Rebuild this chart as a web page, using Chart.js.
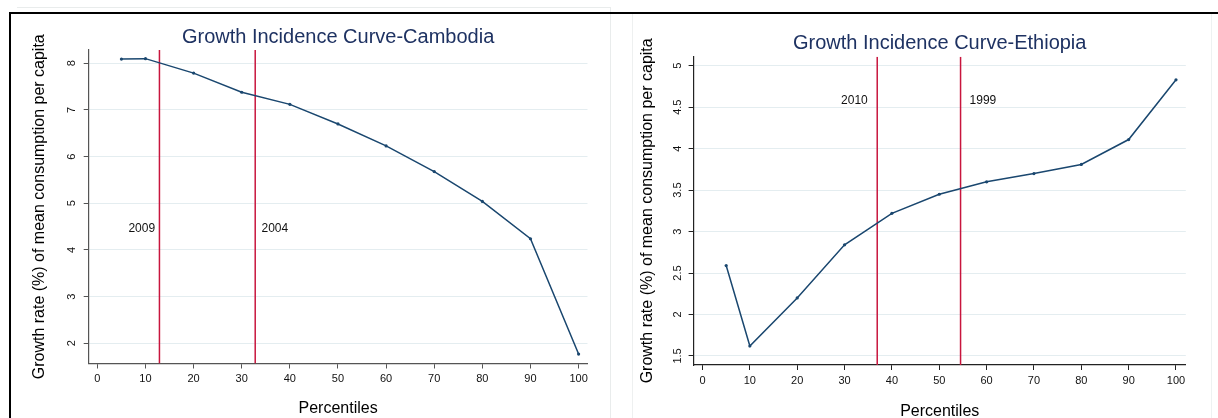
<!DOCTYPE html>
<html>
<head>
<meta charset="utf-8">
<script src="https://cdn.jsdelivr.net/npm/chart.js@4.4.0/dist/chart.umd.min.js"></script>
<style>
  html, body { margin: 0; padding: 0; background: #fff; overflow: hidden; }
  body { width: 1218px; height: 418px; position: relative; }
  .wrap { position: absolute; top: 0; }
  .ln { position: absolute; }
</style>
</head>
<body>
<div class="wrap" style="left:0;width:610px;height:418px"><canvas id="cambodia"></canvas></div>
<div class="wrap" style="left:610px;width:608px;height:421px"><canvas id="ethiopia"></canvas></div>

<!-- page frame lines -->
<div class="ln" style="left:17px;top:7px;width:594px;height:1px;background:#e9ecec"></div>
<div class="ln" style="left:610px;top:7px;width:1px;height:411px;background:#e9ecec"></div>
<div class="ln" style="left:632px;top:14px;width:1px;height:404px;background:#eef0f0"></div>
<div class="ln" style="left:1211px;top:14px;width:1px;height:404px;background:#eef2f2"></div>
<div class="ln" style="left:9px;top:12px;width:1209px;height:2px;background:#000"></div>
<div class="ln" style="left:9px;top:12px;width:2px;height:406px;background:#000"></div>

<script>
// percentile groups
const percentiles = [5, 10, 20, 30, 40, 50, 60, 70, 80, 90, 100];
const xTicks = [0, 10, 20, 30, 40, 50, 60, 70, 80, 90, 100];

// Cambodia
const cambodiaGrowth = [8.09, 8.10, 7.79, 7.38, 7.12, 6.70, 6.23, 5.68, 5.04, 4.24, 1.77];
const cambodiaYTicks = [2, 3, 4, 5, 6, 7, 8];
const cambodiaYearLines = [12.9, 32.8];
const cambodiaYearLabels = ['2009', '2004'];

// Ethiopia
const ethiopiaGrowth = [2.59, 1.62, 2.20, 2.84, 3.22, 3.45, 3.60, 3.70, 3.81, 4.11, 4.83];
const ethiopiaYTicks = [1.5, 2, 2.5, 3, 3.5, 4, 4.5, 5];
const ethiopiaYearLines = [36.9, 54.5];
const ethiopiaYearLabels = ['2010', '1999'];

const FONT = '"Liberation Sans", Arial, sans-serif';
const navy = '#1a476f';
const red = '#c8153d';
const gridCol = '#e4edf0';

// title, rotated y tick labels and the year notes
const overlay = {
  id: 'overlay',
  afterDraw(chart, args, o) {
    const { ctx, chartArea } = chart;
    const x = chart.scales.x, y = chart.scales.y;
    ctx.save();
    ctx.fillStyle = '#1e3262';
    ctx.font = '20px ' + FONT;
    ctx.textAlign = 'center';
    ctx.textBaseline = 'middle';
    ctx.fillText(o.title, (chartArea.left + chartArea.right) / 2, o.titleY);

    ctx.fillStyle = '#111';
    ctx.font = '11px ' + FONT;
    o.yTicks.forEach(v => {
      ctx.save();
      ctx.translate(chartArea.left - o.yLabelOff, y.getPixelForValue(v));
      ctx.rotate(-Math.PI / 2);
      ctx.fillText(String(v), 0, 0);
      ctx.restore();
    });

    ctx.font = '12px ' + FONT;
    o.notes.forEach((t, i) => {
      ctx.textAlign = o.noteAlign[i];
      ctx.fillText(t, x.getPixelForValue(o.noteX[i]), y.getPixelForValue(o.noteY));
    });
    ctx.restore();
  }
};

function gic(id, growth, yTicks, yMin, yMax, xMin, xMax, yearLines, yearLabels, lay) {
  const lines = yearLines.map(v => ({
    data: [{ x: v, y: yMin }, { x: v, y: yMax }],
    borderColor: red, borderWidth: 1.5, pointRadius: 0, order: 2
  }));
  return new Chart(document.getElementById(id), {
    type: 'line',
    data: {
      datasets: [{
        data: percentiles.map((p, i) => ({ x: p, y: growth[i] })),
        borderColor: navy, backgroundColor: navy,
        borderWidth: 1.5, pointRadius: 1.6, pointBorderWidth: 0,
        tension: 0, order: 1
      }].concat(lines)
    },
    options: {
      responsive: true, maintainAspectRatio: false, animation: false, events: [],
      layout: { padding: { top: lay.top, right: lay.right, bottom: 0, left: 0 } },
      plugins: {
        legend: { display: false }, tooltip: { enabled: false },
        overlay: {
          title: lay.title, titleY: lay.titleY, yTicks: yTicks, yLabelOff: lay.yLabelOff,
          notes: yearLabels, noteX: lay.noteX, noteY: lay.noteY, noteAlign: ['right', 'left']
        }
      },
      scales: {
        x: {
          type: 'linear', min: xMin, max: xMax,
          afterBuildTicks: s => { s.ticks = xTicks.map(v => ({ value: v })); },
          afterFit: s => { s.height = lay.xHeight; s.paddingLeft = 0; s.paddingRight = 0; },
          grid: { drawOnChartArea: false, drawTicks: true, tickLength: 5, tickColor: lay.axis },
          border: { color: lay.axis, width: 1.2 },
          ticks: { color: '#111', font: { family: FONT, size: 11 }, padding: 4, maxRotation: 0, autoSkip: false },
          title: { display: true, text: 'Percentiles', color: '#000', font: { family: FONT, size: 16 }, padding: { top: 0, bottom: 0 } }
        },
        y: {
          type: 'linear', min: yMin, max: yMax,
          afterBuildTicks: s => { s.ticks = yTicks.map(v => ({ value: v })); },
          afterFit: s => { s.width = lay.yWidth; s.paddingTop = 0; s.paddingBottom = 0; },
          grid: { color: gridCol, drawTicks: true, tickLength: 5, tickColor: lay.axis },
          border: { color: lay.axis, width: 1.2 },
          ticks: { display: false },
          title: { display: true, text: 'Growth rate (%) of mean consumption per capita', color: '#000',
                   font: { family: FONT, size: 16 }, padding: { top: lay.yTitlePad, bottom: 0 } }
        }
      }
    },
    plugins: [overlay]
  });
}

gic('cambodia', cambodiaGrowth, cambodiaYTicks, 1.567, 8.285, -1.8, 101.85,
    cambodiaYearLines, cambodiaYearLabels,
    { title: 'Growth Incidence Curve-Cambodia', titleY: 37, top: 50, right: 22.5, xHeight: 54.5,
      yWidth: 88.7, yTitlePad: 30.4, yLabelOff: 16.5, axis: '#555',
      noteX: [12.0, 34.1], noteY: 4.46 });

gic('ethiopia', ethiopiaGrowth, ethiopiaYTicks, 1.391, 5.109, -1.88, 102.07,
    ethiopiaYearLines, ethiopiaYearLabels,
    { title: 'Growth Incidence Curve-Ethiopia', titleY: 43, top: 56.7, right: 32.2, xHeight: 56,
      yWidth: 83.6, yTitlePad: 28.4, yLabelOff: 15.5, axis: '#222',
      noteX: [34.9, 56.4], noteY: 4.583 });
</script>
</body>
</html>
